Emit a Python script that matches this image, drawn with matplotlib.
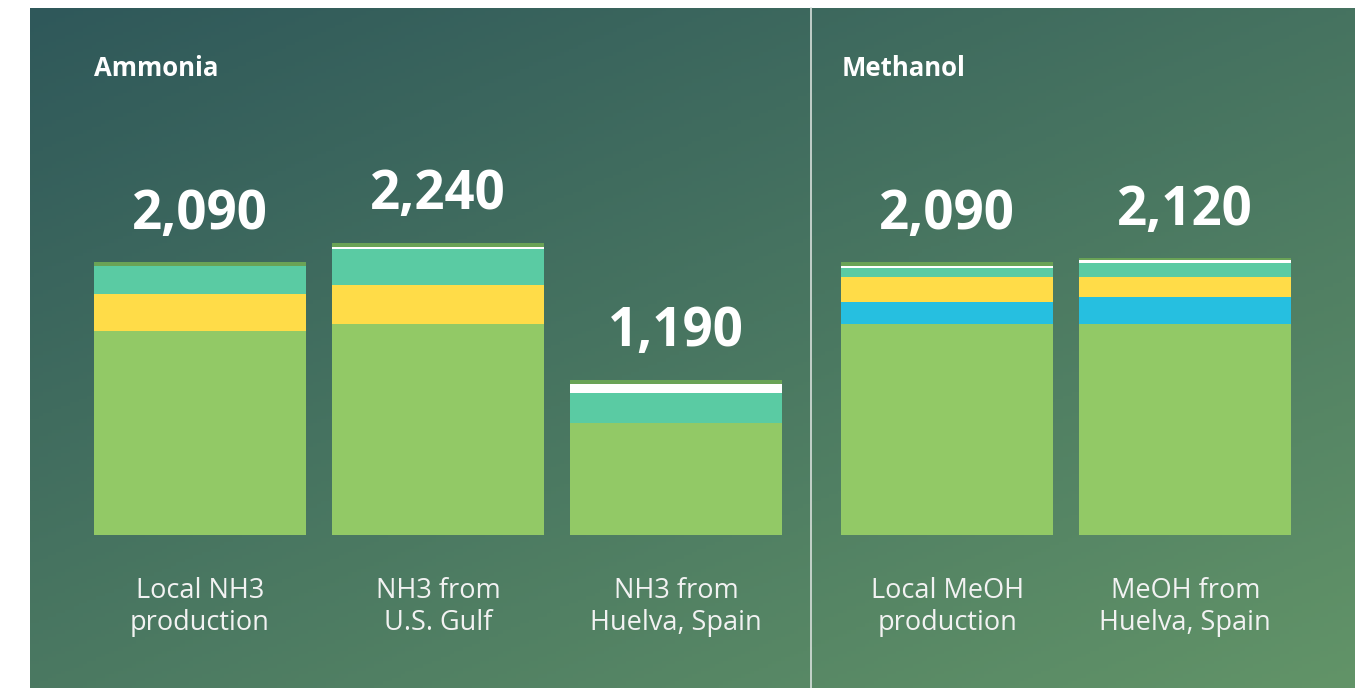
import matplotlib.pyplot as plt
import numpy as np

# data
categories = ['Local NH3\nproduction', 'NH3 from\nU.S. Gulf', 'NH3 from\nHuelva, Spain',
              'Local MeOH\nproduction', 'MeOH from\nHuelva, Spain']
groups = ['Ammonia', 'Ammonia', 'Ammonia', 'Methanol', 'Methanol']
totals = [2090, 2240, 1190, 2090, 2120]
production = [1560, 1615, 860, 1615, 1620]
seg_blue = [0, 0, 0, 170, 205]
seg_yellow = [285, 300, 0, 190, 155]
seg_teal = [215, 275, 230, 70, 105]
seg_white = [0, 20, 70, 15, 20]
seg_dark = [30, 30, 30, 30, 15]

colors = ['#92C966', '#26BFE0', '#FFDC48', '#5ACBA3', '#FFFFFF', '#6AA356']

W, H = 1368, 688
fig = plt.figure(figsize=(W / 100, H / 100), dpi=100)
fig.patch.set_facecolor('white')

# panel with diagonal gradient
px0, px1, py0, py1 = 30, 1355, 8, 688
bg = fig.add_axes([px0 / W, 1 - py1 / H, (px1 - px0) / W, (py1 - py0) / H])
gx, gy = np.meshgrid(np.linspace(0, 1, 300), np.linspace(0, 1, 200))
t = 0.45 * gx + 0.55 * gy
c0 = np.array([47, 88, 90]) / 255
c1 = np.array([98, 148, 104]) / 255
img = c0 + (c1 - c0) * t[..., None]
bg.imshow(img, aspect='auto', origin='upper', extent=[0, 1, 0, 1])
bg.axis('off')

# bar axes on the same area
ax = fig.add_axes(bg.get_position(), facecolor='none')
unit = 238.0
pos = np.arange(len(categories)) + np.array([0 if g == 'Ammonia' else 0.14 for g in groups])
ax.set_xlim((px0 - 200) / unit, (px1 - 200) / unit)
scale = 0.1305
ax.set_ylim(-(py1 - 535) / scale, (535 - py0) / scale)
ax.axis('off')

bottom = np.zeros(len(categories))
for vals, col in zip([production, seg_blue, seg_yellow, seg_teal, seg_white, seg_dark], colors):
    ax.bar(pos, vals, width=212 / unit, bottom=bottom, color=col, linewidth=0)
    bottom += np.array(vals)

font = 'Open Sans'
for p, tot, cat in zip(pos, totals, categories):
    ax.annotate(f'{tot:,}', xy=(p, tot), xytext=(0, 24), textcoords='offset points',
                ha='center', va='baseline', fontsize=38, fontweight='bold',
                color='white', family=font)
    ax.annotate(cat, xy=(p, 0), xytext=(0, -30), textcoords='offset points',
                ha='center', va='top', fontsize=19.5, color='#F2F2F2', family=font,
                linespacing=1.2)

# group titles and divider
fig.text(94 / W, 1 - 68 / H, 'Ammonia', fontsize=18.5, fontweight='bold', color='white',
         family=font, va='center', ha='left')
fig.text(842 / W, 1 - 68 / H, 'Methanol', fontsize=18.5, fontweight='bold', color='white',
         family=font, va='center', ha='left')
fig.add_artist(plt.Line2D([811 / W, 811 / W], [0, 1 - py0 / H], color='#D8E0DC',
                          linewidth=1.2, transform=fig.transFigure))

fig.savefig('out.png', dpi=100, facecolor='white')
